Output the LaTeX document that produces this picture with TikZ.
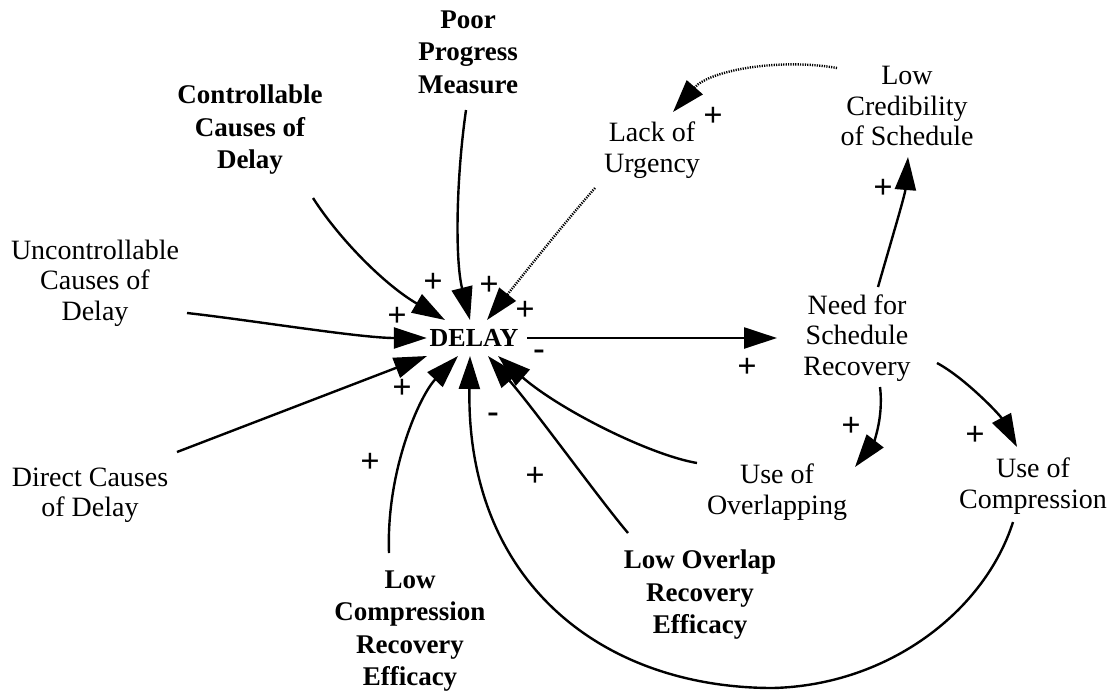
\documentclass[tikz,border=0pt]{standalone}
\usepackage{fontspec}
\setmainfont{Liberation Serif}
\usetikzlibrary{arrows.meta,calc}

\begin{document}
\begin{tikzpicture}[x=1pt,y=-1pt,
  var/.style={align=center, inner sep=0pt, font=\fontsize{28}{30.5}\selectfont},
  bvar/.style={align=center, inner sep=0pt, font=\bfseries\fontsize{27}{32.5}\selectfont},
  sign/.style={inner sep=0pt, font=\bfseries\fontsize{34}{34}\selectfont},
  link/.style={line width=2.4pt, -{Triangle[length=33pt,width=21pt]}},
  weak/.style={line width=2.4pt, dash pattern=on 1.2pt off 1.2pt, -{Triangle[length=33pt,width=21pt]}},
]
\path[use as bounding box] (0,0) rectangle (1118,697);

% variables
\node[bvar, minimum width=94pt, minimum height=36pt, font=\bfseries\fontsize{26}{30}\selectfont] (delay) at (474,338) {DELAY};
\node[bvar] (poor)    at (468,52)  {Poor\\Progress\\Measure};
\node[bvar] (ctrl)    at (250,130) {Controllable\\Causes of\\Delay};
\node[var]  (unctrl)  at (95,283)  {Uncontrollable\\Causes of\\Delay};
\node[var]  (direct)  at (90,495)  {Direct Causes\\of Delay};
\node[bvar] (lowcomp) at (410,631) {Low\\Compression\\Recovery\\Efficacy};
\node[bvar] (lowover) at (700,595) {Low Overlap\\Recovery\\Efficacy};
\node[var]  (useover) at (777,492) {Use of\\Overlapping};
\node[var]  (usecomp) at (1033,486) {Use of\\Compression};
\node[var]  (need)    at (857,338) {Need for\\Schedule\\Recovery};
\node[var]  (cred)    at (907,106) {Low\\Credibility\\of Schedule};
\node[var]  (urg)     at (652,150) {Lack of\\Urgency};

% links into DELAY
\draw[link] ($(ctrl)+(63,68)$) .. controls (340,240) and (385,285) .. ($(delay)+(-29,-18)$);
\draw[link] ($(poor)+(-2,58)$) .. controls (456,180) and (455,260) .. ($(delay)+(-4,-18)$);
\draw[weak] ($(urg)+(-57,38)$) .. controls (565,222) and (515,285) .. ($(delay)+(13,-18)$);
\draw[link] ($(unctrl)+(92,30)$) .. controls (250,320) and (360,338) .. (delay.west);
\draw[link] ($(direct)+(87,-43)$) -- ($(delay)+(-47,18)$);
\draw[link] ($(lowcomp)+(-21,-78)$) .. controls (386,470) and (420,395) .. ($(delay)+(-16,18)$);
\draw[link] ($(usecomp)+(-20,36)$) .. controls (985,610) and (890,685) .. (773,688)
            .. controls (600,688) and (466,580) .. ($(delay)+(-4,18)$);
\draw[link] ($(lowover)+(-72,-62)$) .. controls (600,500) and (535,410) .. ($(delay)+(14,18)$);
\draw[link] ($(useover)+(-80,-29)$) .. controls (650,455) and (560,410) .. ($(delay)+(24,18)$);

% links out of DELAY and the recovery loop
\draw[link] ($(delay)+(53,0)$) -- ($(need)+(-80,0)$);
\draw[link] ($(need)+(21,-51)$) .. controls (890,245) and (905,195) .. ($(cred)+(1,51)$);
\draw[weak] ($(cred)+(-70,-38)$) .. controls (780,58) and (710,70) .. ($(urg)+(21,-38)$);
\draw[link] ($(need)+(23,49)$) .. controls (884,420) and (872,445) .. ($(useover)+(78,-25)$);
\draw[link] ($(need)+(80,25)$) .. controls (965,378) and (1000,415) .. ($(usecomp)+(-16,-39)$);

% polarities
\node[sign] (s1)  at (433,283) {+};
\node[sign] (s2)  at (489,286) {+};
\node[sign] (s3)  at (525,311) {+};
\node[sign] (s4)  at (397,317) {+};
\node[sign] (s5)  at (539,355) {-};
\node[sign] (s6)  at (402,389) {+};
\node[sign] (s7)  at (370,463) {+};
\node[sign] (s8)  at (493,418) {-};
\node[sign] (s9)  at (535,477) {+};
\node[sign] (s10) at (747,368) {+};
\node[sign] (s11) at (713,117) {+};
\node[sign] (s12) at (883,189) {+};
\node[sign] (s13) at (851,427) {+};
\node[sign] (s14) at (975,436) {+};
\end{tikzpicture}
\end{document}
